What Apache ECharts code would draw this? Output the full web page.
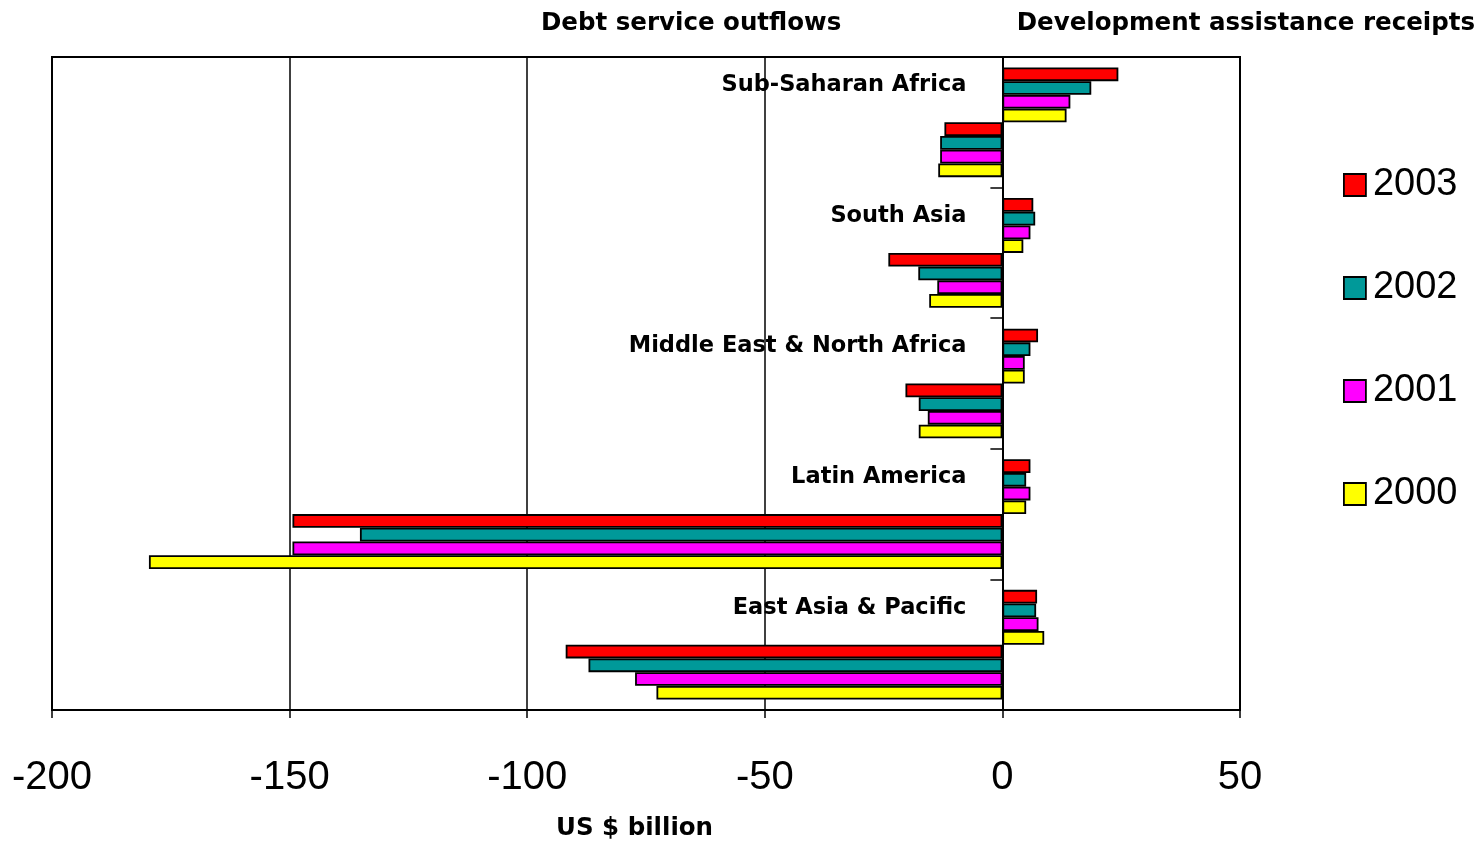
<!DOCTYPE html>
<html>
<head>
<meta charset="utf-8">
<script src="https://cdn.jsdelivr.net/npm/echarts@6/dist/echarts.min.js"></script>
<style>
html,body{margin:0;padding:0;background:#fff;}
#chart{width:1480px;height:844px;}
</style>
</head>
<body>
<div id="chart"></div>
<script>
var regions = ['Sub-Saharan Africa', 'South Asia', 'Middle East & North Africa', 'Latin America', 'East Asia & Pacific'];
var years = ['2003', '2002', '2001', '2000'];
var xTicks = [-200, -150, -100, -50, 0, 50];

// Development assistance receipts (US $ billion)
var assist2003 = [24.4, 6.5, 7.5, 5.9, 7.3];
var assist2002 = [18.7, 6.9, 5.9, 5.0, 7.1];
var assist2001 = [14.3, 5.9, 4.7, 5.9, 7.6];
var assist2000 = [13.5, 4.4, 4.7, 5.0, 8.8];

// Debt service outflows (US $ billion)
var debt2003 = [-12.2, -24.0, -20.4, -149.4, -91.9];
var debt2002 = [-13.1, -17.7, -17.6, -135.2, -87.1];
var debt2001 = [-13.1, -13.7, -15.7, -149.4, -77.3];
var debt2000 = [-13.5, -15.4, -17.6, -179.6, -72.8];

var colors = { '2003': '#FF0000', '2002': '#009999', '2001': '#FF00FF', '2000': '#FFFF00' };

var groups = [
  { name: '2003', data: assist2003, label: true },
  { name: '2002', data: assist2002 },
  { name: '2001', data: assist2001 },
  { name: '2000', data: assist2000 },
  { name: '2003', data: debt2003 },
  { name: '2002', data: debt2002 },
  { name: '2001', data: debt2001 },
  { name: '2000', data: debt2000 }
];

var boldFont = 'DejaVu Sans';
var series = groups.map(function (g) {
  var s = {
    type: 'bar',
    name: g.name,
    data: g.data,
    barGap: '0%',
    barCategoryGap: '16%',
    itemStyle: { color: colors[g.name], borderColor: '#000', borderWidth: 1.8 },
    emphasis: { disabled: true },
    animation: false
  };
  if (g.label) {
    // region names drawn next to the zero line, left of each region's first bar
    s.label = {
      show: true,
      position: 'left',
      distance: 36,
      offset: [0, 11],
      formatter: '{b}',
      fontFamily: boldFont, fontWeight: 'bold', fontSize: 22.5, color: '#000'
    };
  }
  return s;
});

var chart = echarts.init(document.getElementById('chart'));
chart.setOption({
  backgroundColor: '#fff',
  animation: false,
  grid: { left: 52, right: 240, top: 57, bottom: 134, show: true, borderColor: '#000', borderWidth: 2, containLabel: false, outerBoundsMode: 'none' },
  legend: {
    orient: 'vertical',
    left: 1338,
    top: 160,
    data: years,
    icon: 'rect',
    itemWidth: 22,
    itemHeight: 22,
    itemGap: 63,
    itemStyle: { borderColor: '#000', borderWidth: 1.8 },
    textStyle: { fontFamily: 'Liberation Sans', fontSize: 38, color: '#000', lineHeight: 40, padding: [0, 0, 0, 2] },
    selectedMode: false
  },
  xAxis: {
    type: 'value',
    min: xTicks[0],
    max: xTicks[xTicks.length - 1],
    interval: 50,
    axisLine: { show: true, onZero: false, lineStyle: { color: '#000', width: 2 } },
    axisTick: { show: true, length: 8, lineStyle: { color: '#000', width: 1.5 } },
    axisLabel: { fontFamily: 'Liberation Sans', fontSize: 40, color: '#000', margin: 48 },
    splitLine: { show: true, lineStyle: { color: '#000', width: 1.5 } }
  },
  yAxis: {
    type: 'category',
    data: regions,
    inverse: true,
    axisLine: { show: true, onZero: true, lineStyle: { color: '#000', width: 2 } },
    axisTick: { show: true, length: 12, lineStyle: { color: '#000', width: 1.5 } },
    axisLabel: { show: false },
    splitLine: { show: false }
  },
  graphic: [
    { type: 'text', left: 541, top: 11, style: { text: 'Debt service outflows', font: 'bold 24.5px "DejaVu Sans"', fill: '#000' } },
    { type: 'text', right: 5, top: 11, style: { text: 'Development assistance receipts', font: 'bold 24.5px "DejaVu Sans"', fill: '#000' } },
    { type: 'text', left: 556, top: 816, style: { text: 'US $ billion', font: 'bold 24.5px "DejaVu Sans"', fill: '#000' } }
  ],
  series: series
});
</script>
</body>
</html>
